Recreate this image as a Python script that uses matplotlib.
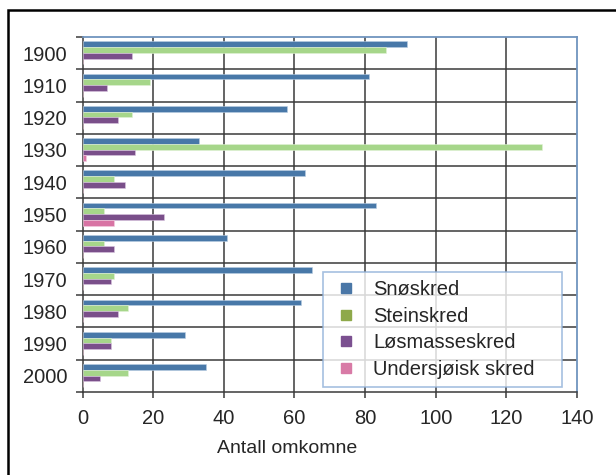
import numpy as np
import matplotlib
matplotlib.use('Agg')
import matplotlib.pyplot as plt
from matplotlib.lines import Line2D
from matplotlib.patches import Rectangle

plt.rcParams['font.family'] = ['Liberation Sans', 'DejaVu Sans']

years = ['1900', '1910', '1920', '1930', '1940', '1950', '1960', '1970', '1980', '1990', '2000']
snoskred = [92, 81, 58, 33, 63, 83, 41, 65, 62, 29, 35]
steinskred = [86, 19, 14, 130, 9, 6, 6, 9, 13, 8, 13]
losmasseskred = [14, 7, 10, 15, 12, 23, 9, 8, 10, 8, 5]
undersjoisk = [0, 0, 0, 1, 0, 9, 0, 0, 0, 0, 0]
series_names = ['Snøskred', 'Steinskred', 'Løsmasseskred', 'Undersjøisk skred']

bar_colors = ['#4878a8', '#a6d68a', '#7a4f8a', '#d874a4']
edge_colors = ['#b9cde3', '#e2f2d6', '#d9c6e0', '#f3cfe0']
legend_colors = ['#4a77a7', '#8ea94a', '#7b5090', '#d87aa6']
text_col = '#262626'

fig = plt.figure(figsize=(6.16, 4.75), dpi=100)
ax = fig.add_axes([82.5/616, 1-392/475, 494.5/616, 355/475])

y = np.arange(len(years))
h = 0.178
data = [snoskred, steinskred, losmasseskred, undersjoisk]
for i, vals in enumerate(data):
    ax.barh(y + (i - 1.5) * h - 0.01, vals, height=h, color=bar_colors[i],
            edgecolor=edge_colors[i], linewidth=0.4, zorder=3)

ax.set_xlim(0, 140)
ax.set_ylim(len(years) - 0.5, -0.5)
ax.set_xticks(np.arange(0, 141, 20))
ax.set_yticks(y)
ax.set_yticklabels(years)
ax.set_yticks(np.arange(-0.5, len(years)), minor=True)

# grid lines
for xv in range(20, 140, 20):
    ax.axvline(xv, color='#3a3a3a', lw=1.1, zorder=1)
for yv in np.arange(0.5, len(years) - 0.5):
    ax.axhline(yv, color='#3a3a3a', lw=1.1, zorder=1)

ax.tick_params(axis='y', which='major', length=0, pad=11, labelsize=14.5, labelcolor=text_col)
ax.tick_params(axis='y', which='minor', length=5, width=1.1, color='#3a3a3a')
ax.tick_params(axis='x', length=4, width=1.1, color='#3a3a3a', pad=8, labelsize=14.5, labelcolor=text_col)

for s in ['top', 'right']:
    ax.spines[s].set_color('#7094be')
    ax.spines[s].set_linewidth(1.3)
for s in ['left', 'bottom']:
    ax.spines[s].set_color('#3a3a3a')
    ax.spines[s].set_linewidth(1.1)

ax.set_xlabel('Antall omkomne', fontsize=14, color=text_col)
ax.xaxis.set_label_coords((287 - 82.5) / 494.5, -0.135)

handles = [Line2D([], [], marker='s', linestyle='none', markersize=7,
                  markerfacecolor=c, markeredgecolor=c) for c in legend_colors]
leg = ax.legend(handles, series_names, loc='upper left',
                bbox_to_anchor=(0.486, 0.0225, 0.484, 0.3155), mode='expand',
                fontsize=14.5, frameon=True, fancybox=False, borderpad=0.4,
                handletextpad=0.6, labelspacing=0.38, handlelength=1.5, borderaxespad=0)
leg.get_frame().set_edgecolor('#8fb0d8')
leg.get_frame().set_linewidth(1.2)
for t in leg.get_texts():
    t.set_color(text_col)
leg.set_zorder(5)

# outer frame
fig.add_artist(Rectangle((8/616, -0.1), 1.2, 1 - 10/475 + 0.1, transform=fig.transFigure,
                         fill=False, edgecolor='black', linewidth=1.8, clip_on=False))

fig.savefig('out.png', dpi=100)
